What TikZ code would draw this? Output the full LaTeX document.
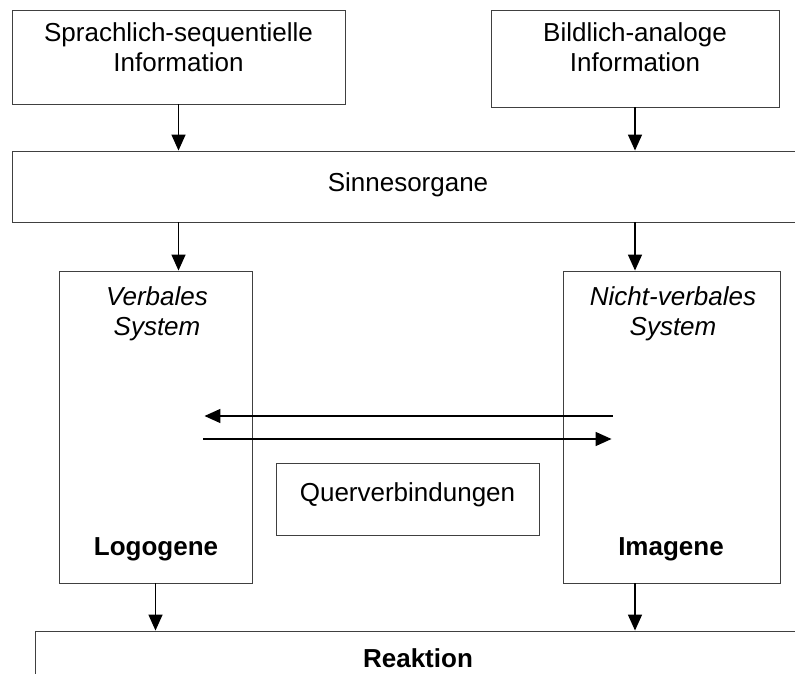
\documentclass[tikz,border=0pt]{standalone}
\usepackage{fontspec}
\setmainfont{Liberation Sans}
\usetikzlibrary{arrows.meta}
\begin{document}
\begin{tikzpicture}[x=1pt,y=-1pt,
    box/.style={draw=black!75, line width=.9pt, inner sep=0pt},
    txt/.style={font=\fontsize{26}{30}\selectfont, inner sep=0pt, align=center, anchor=base},
    pfeil/.style={line width=1.5pt, -{Triangle[length=16pt,width=14pt]}}]
  \useasboundingbox (0,0) rectangle (795,674);
  % Kaesten
  \node[box, minimum width=333pt, minimum height=94pt] (sprache) at (178.5,57) {};
  \node[box, minimum width=288pt, minimum height=97pt] (bild) at (635,58.5) {};
  \node[box, minimum width=793pt, minimum height=71pt] (sinne) at (408.5,186.5) {};
  \node[box, minimum width=193pt, minimum height=312pt] (verbal) at (155.5,427) {};
  \node[box, minimum width=217pt, minimum height=312pt] (imag) at (671.5,427) {};
  \node[box, minimum width=263pt, minimum height=72pt] (quer) at (407.5,499) {};
  \node[box, minimum width=780pt, minimum height=80pt] (reakt) at (425,671) {};
  % Texte
  \node[txt] at (178.5,72) {Sprachlich-sequentielle\\Information};
  \node[txt] at (635,72) {Bildlich-analoge\\Information};
  \node[txt] at (408,191) {Sinnesorgane};
  \node[txt, font=\fontsize{26}{30}\selectfont\itshape] at (157,335) {Verbales\\System};
  \node[txt, font=\fontsize{26}{30}\selectfont\itshape] at (673,335) {Nicht-verbales\\System};
  \node[txt, font=\fontsize{26}{30}\selectfont\bfseries] at (156,555) {Logogene};
  \node[txt, font=\fontsize{26}{30}\selectfont\bfseries] at (671,555) {Imagene};
  \node[txt] at (407.5,501) {Querverbindungen};
  \node[txt, font=\fontsize{26}{30}\selectfont\bfseries] at (418,667) {Reaktion};
  % Pfeile
  \draw[pfeil] (sprache.south) -- (sprache.south |- sinne.north);
  \draw[pfeil] (bild.south) -- (bild.south |- sinne.north);
  \draw[pfeil] (sinne.south -| sprache.south) -- (sprache.south |- verbal.north);
  \draw[pfeil] (sinne.south -| bild.south) -- (bild.south |- imag.north);
  \draw[pfeil] ([xshift=50pt,yshift=11pt]imag.west) -- ([xshift=-48pt,yshift=11pt]verbal.east);
  \draw[pfeil] ([xshift=-49pt,yshift=-12pt]verbal.east) -- ([xshift=49pt,yshift=-12pt]imag.west);
  \draw[pfeil] (verbal.south) -- (verbal.south |- reakt.north);
  \draw[pfeil] (imag.south -| bild.south) -- (bild.south |- reakt.north);
\end{tikzpicture}
\end{document}
